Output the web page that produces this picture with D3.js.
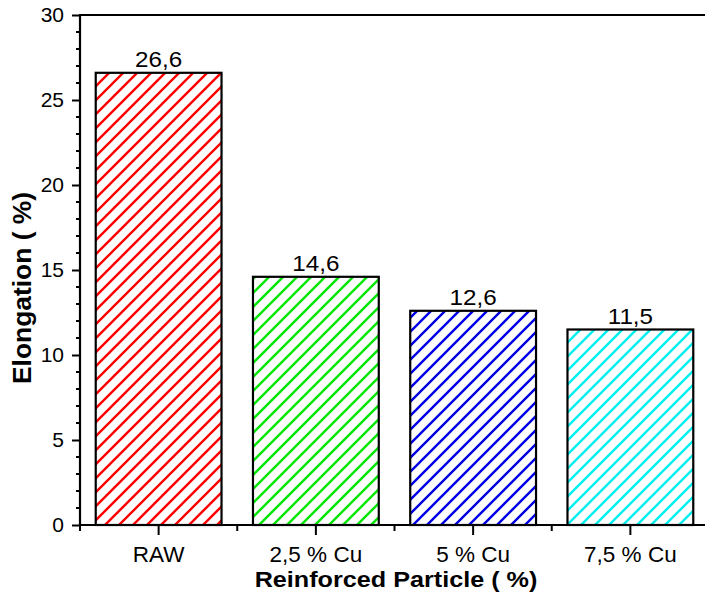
<!DOCTYPE html>
<html>
<head>
<meta charset="utf-8">
<script src="https://cdn.jsdelivr.net/npm/d3@7"></script>
<style>
  html, body { margin: 0; padding: 0; background: #fff; }
  svg { display: block; font-family: "Liberation Sans", Arial, sans-serif; }
</style>
</head>
<body>
<svg id="chart" width="705" height="593"></svg>
<script>
const categories = ["RAW", "2,5 % Cu", "5 % Cu", "7,5 % Cu"];
const values = [26.6, 14.6, 12.6, 11.5];
const valueLabels = ["26,6", "14,6", "12,6", "11,5"];
const barColors = ["#ff0000", "#00e600", "#0000e6", "#00f0f0"];
const yTicks = [0, 5, 10, 15, 20, 25, 30];
const xTitle = "Reinforced Particle ( %)";
const yTitle = "Elongation ( %)";

const svg = d3.select("#chart");
const mLeft = 80, mTop = 15, mRight = 709, mBottom = 525;

const x = d3.scaleBand().domain(categories).range([mLeft, mRight])
  .paddingInner(0.2).paddingOuter(0.1);
const y = d3.scaleLinear().domain([0, 30]).range([mBottom, mTop]);

const defs = svg.append("defs");
categories.forEach((c, i) => {
  const p = defs.append("pattern")
    .attr("id", "hatch" + i)
    .attr("patternUnits", "userSpaceOnUse")
    .attr("width", 14).attr("height", 14);
  p.append("rect").attr("width", 14).attr("height", 14).attr("fill", "#fff");
  p.append("path")
    .attr("d", "M-1,15 L15,-1 M-4,4 L4,-4 M10,18 L18,10")
    .attr("stroke", barColors[i]).attr("stroke-width", 2.4)
    .attr("fill", "none");
});

// bars
svg.append("g").selectAll("rect").data(categories).join("rect")
  .attr("x", d => x(d))
  .attr("y", (d, i) => y(values[i]))
  .attr("width", x.bandwidth())
  .attr("height", (d, i) => y(0) - y(values[i]))
  .attr("fill", (d, i) => `url(#hatch${i})`)
  .attr("stroke", "#000").attr("stroke-width", 2.2);

// value labels
svg.append("g").selectAll("text").data(categories).join("text")
  .attr("transform", (d, i) => `translate(${x(d) + x.bandwidth() / 2},${y(values[i]) - 6}) scale(1.1,1)`)
  .attr("text-anchor", "middle")
  .attr("font-size", 22)
  .attr("fill", "#000")
  .text((d, i) => valueLabels[i]);

// y axis
const yAxis = d3.axisLeft(y).tickValues(yTicks).tickSize(8).tickSizeOuter(0).tickPadding(8)
  .tickFormat(d3.format("d"));
const gy = svg.append("g").attr("transform", `translate(${mLeft},0)`).call(yAxis);
gy.select(".domain").remove();
gy.selectAll(".tick line").attr("stroke", "#000").attr("stroke-width", 2);
gy.selectAll(".tick text").attr("font-size", 21).attr("fill", "#000")
  .attr("font-family", "Liberation Sans, Arial, sans-serif");
// y minor ticks
const yMinor = d3.range(0, 31).filter(v => v % 5 !== 0);
svg.append("g").selectAll("line").data(yMinor).join("line")
  .attr("x1", mLeft - 4).attr("x2", mLeft)
  .attr("y1", d => y(d)).attr("y2", d => y(d))
  .attr("stroke", "#000").attr("stroke-width", 2);

// x axis
const xAxis = d3.axisBottom(x).tickSize(10).tickSizeOuter(0).tickPadding(11);
const gx = svg.append("g").attr("transform", `translate(0,${mBottom})`).call(xAxis);
gx.select(".domain").remove();
gx.selectAll(".tick line").attr("stroke", "#000").attr("stroke-width", 2);
gx.selectAll(".tick text").attr("font-size", 22.5).attr("fill", "#000")
  .attr("font-family", "Liberation Sans, Arial, sans-serif");
// x minor ticks at category boundaries
const xMinor = d3.range(0, categories.length + 1).map(i => mLeft + i * x.step());
svg.append("g").selectAll("line").data(xMinor).join("line")
  .attr("x1", d => d).attr("x2", d => d)
  .attr("y1", mBottom).attr("y2", mBottom + 6)
  .attr("stroke", "#000").attr("stroke-width", 2);

// frame lines: left, bottom, top
svg.append("line").attr("x1", mLeft).attr("x2", mLeft).attr("y1", mTop - 1).attr("y2", mBottom + 1)
  .attr("stroke", "#000").attr("stroke-width", 2.2);
svg.append("line").attr("x1", mLeft - 1).attr("x2", mRight).attr("y1", mBottom).attr("y2", mBottom)
  .attr("stroke", "#000").attr("stroke-width", 2.2);
svg.append("line").attr("x1", mLeft - 1).attr("x2", mRight).attr("y1", mTop).attr("y2", mTop)
  .attr("stroke", "#000").attr("stroke-width", 2.2);

// titles
svg.append("text")
  .attr("transform", `translate(396,587) scale(1.12,1)`)
  .attr("text-anchor", "middle")
  .attr("font-size", 22.5).attr("font-weight", "bold").attr("fill", "#000")
  .text(xTitle);
svg.append("text")
  .attr("transform", `translate(31,288) rotate(-90)`)
  .attr("text-anchor", "middle")
  .attr("font-size", 26).attr("font-weight", "bold").attr("fill", "#000")
  .attr("textLength", 192).attr("lengthAdjust", "spacingAndGlyphs")
  .text(yTitle);
</script>
</body>
</html>
